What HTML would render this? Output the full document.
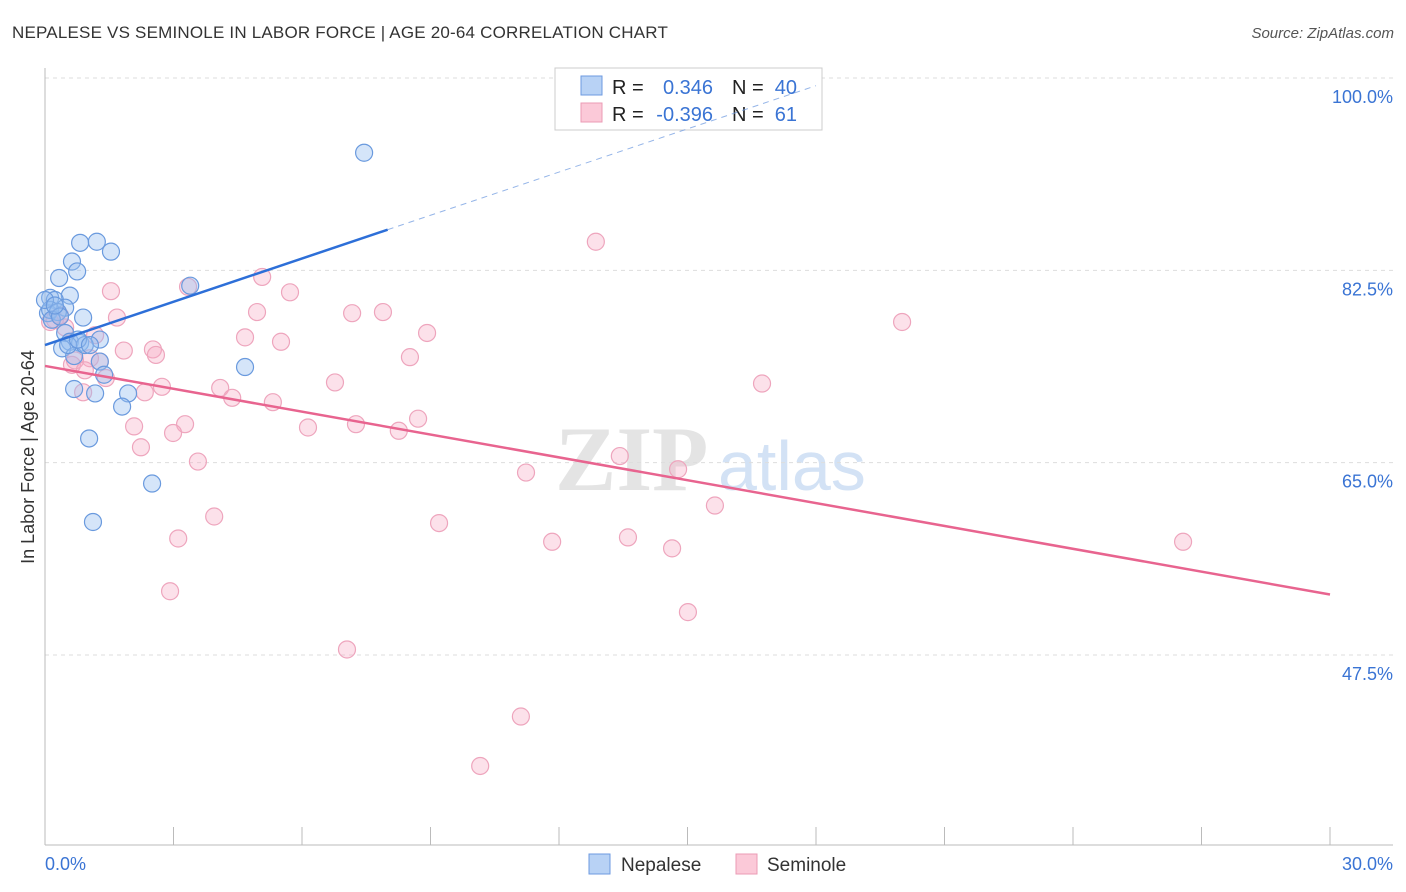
<!DOCTYPE html>
<html><head><meta charset="utf-8"><style>
body{margin:0;background:#fff;font-family:"Liberation Sans",sans-serif;}
#c{position:relative;width:1406px;height:892px;overflow:hidden;}
.t{position:absolute;white-space:nowrap;}
</style></head><body>
<div id="c">
<div class="t" style="left:12px;top:23px;font-size:17px;color:#333;letter-spacing:0.2px">NEPALESE VS SEMINOLE IN LABOR FORCE | AGE 20-64 CORRELATION CHART</div>
<div class="t" style="right:12px;top:25px;font-size:15px;color:#555;font-style:italic">Source: ZipAtlas.com</div>
<svg id="s" width="1406" height="892" style="position:absolute;left:0;top:0"></svg>
</div>
<script>
const xBlue=[7.45,0.82,1.21,1.54,0.63,0.75,0.33,3.39,0.58,0.12,0.23,0.47,0.07,0.89,0.47,1.28,0.58,0.82,0.40,0.68,1.28,4.67,1.38,0.68,1.94,1.17,1.80,1.03,2.50,1.12,0.12,0.30,0.0,0.16,0.54,0.93,0.35,0.77,0.23,1.05];
const yBlue=[93.2,85.0,85.1,84.2,83.3,82.4,81.8,81.1,80.2,80.0,79.8,79.1,78.6,78.2,76.8,76.2,76.0,75.9,75.4,74.7,74.2,73.7,73.0,71.7,71.3,71.3,70.1,67.2,63.1,59.6,78.9,78.7,79.8,78.0,75.7,75.7,78.3,76.2,79.3,75.7];
const xPink=[12.86,5.07,1.54,5.72,3.34,4.95,7.17,7.89,1.68,20.01,4.67,8.92,5.51,1.84,2.52,2.59,8.52,1.05,0.63,1.28,6.77,16.74,1.42,2.73,4.09,2.33,4.37,5.32,0.89,8.71,3.27,2.08,7.26,6.14,8.26,2.99,2.24,13.42,14.78,11.23,3.57,15.64,3.95,9.20,3.11,11.84,13.61,26.57,14.64,2.92,15.01,7.05,11.11,10.16,0.23,0.35,0.12,0.47,0.70,1.17,0.93];
const yPink=[85.1,81.9,80.6,80.5,81.0,78.7,78.6,78.7,78.2,77.8,76.4,76.8,76.0,75.2,75.3,74.8,74.6,74.5,73.9,74.2,72.3,72.2,72.7,71.9,71.8,71.4,70.9,70.5,71.4,69.0,68.5,68.3,68.5,68.2,67.9,67.7,66.4,65.6,64.4,64.1,65.1,61.1,60.1,59.5,58.1,57.8,58.2,57.8,57.2,53.3,51.4,48.0,41.9,37.4,78.0,78.4,77.8,77.3,74.3,76.6,73.4];
const yTicks=[100,82.5,65,47.5];
const yTickLabels=["100.0%","82.5%","65.0%","47.5%"];
const blueTrend=[[0,75.7],[8.0,86.2],[18.0,99.3]];
const pinkTrend=[[0,73.8],[30,53.0]];
const X=v=>45+v/30*1285, Y=v=>78+(100-v)*10.99;
const s=document.getElementById('s');const NS='http://www.w3.org/2000/svg';
function el(t,a,p){const e=document.createElementNS(NS,t);for(const k in a)e.setAttribute(k,a[k]);(p||s).appendChild(e);return e;}
let w=el('text',{x:555,y:490,'font-size':92,fill:'#e4e4e4','font-family':'Liberation Serif, serif','font-weight':'bold'});w.textContent='ZIP';

w=el('text',{x:718,y:490,'font-size':70,fill:'#d3e2f5','font-family':'Liberation Sans, sans-serif'});w.textContent='atlas';

yTicks.forEach((v,i)=>{
 const g=el('line',{x1:45,x2:1393,y1:Y(v),y2:Y(v),stroke:'#ddd','stroke-dasharray':'4,4'});
 
 const t=el('text',{x:1393,y:Y(v)+25,'text-anchor':'end','font-size':18,fill:'#3a74d4'});t.textContent=yTickLabels[i];
 
});
let a=el('line',{x1:45,x2:45,y1:68,y2:845,stroke:'#bbb'});
a=el('line',{x1:45,x2:1393,y1:845,y2:845,stroke:'#bbb'});
for(let i=0;i<=10;i++){const tk=el('line',{x1:X(i*3),x2:X(i*3),y1:827,y2:845,stroke:'#bbb'});}
let t=el('text',{x:45,y:870,'font-size':18,fill:'#3a74d4'});t.textContent='0.0%';
t=el('text',{x:1393,y:870,'text-anchor':'end','font-size':18,fill:'#3a74d4'});t.textContent='30.0%';
t=el('text',{x:34,y:457,'text-anchor':'middle','font-size':18,fill:'#333',transform:'rotate(-90 34 457)'});t.textContent='In Labor Force | Age 20-64';
xPink.forEach((x,i)=>{const c=el('circle',{cx:X(x),cy:Y(yPink[i]),r:8.5,fill:'rgba(245,170,195,0.35)',stroke:'#eea5bd','stroke-width':1.2});});
xBlue.forEach((x,i)=>{const c=el('circle',{cx:X(x),cy:Y(yBlue[i]),r:8.5,fill:'rgba(150,190,240,0.4)',stroke:'#6a9ade','stroke-width':1.2});});
let l=el('line',{x1:X(blueTrend[0][0]),y1:Y(blueTrend[0][1]),x2:X(blueTrend[1][0]),y2:Y(blueTrend[1][1]),stroke:'#2d6fd8','stroke-width':2.5});
l=el('line',{x1:X(pinkTrend[0][0]),y1:Y(pinkTrend[0][1]),x2:X(pinkTrend[1][0]),y2:Y(pinkTrend[1][1]),stroke:'#e8648f','stroke-width':2.5});
const lg=el('g',{});
el('rect',{x:555,y:68,width:267,height:62,fill:'#fff',stroke:'#ccc'},lg);
el('rect',{x:581,y:76,width:21,height:19,fill:'#b8d2f5',stroke:'#6d9ae0'},lg);
el('rect',{x:581,y:103,width:21,height:19,fill:'#fbc9d8',stroke:'#eb9bb5'},lg);
function tx(x,y,s,c,anchor){const e=el('text',{x:x,y:y,'font-size':20,fill:c,'text-anchor':anchor||'start'},lg);e.textContent=s;return e;}
tx(612,94,'R =','#222');tx(713,94,'0.346','#3a74d4','end');tx(732,94,'N =','#222');tx(797,94,'40','#3a74d4','end');
tx(612,121,'R =','#222');tx(713,121,'-0.396','#3a74d4','end');tx(732,121,'N =','#222');tx(797,121,'61','#3a74d4','end');
l=el('line',{x1:X(blueTrend[1][0]),y1:Y(blueTrend[1][1]),x2:X(blueTrend[2][0]),y2:Y(blueTrend[2][1]),stroke:'#7aa3e2','stroke-width':1,'stroke-dasharray':'6,5','stroke-opacity':0.8});
const bl=el('g',{});
el('rect',{x:589,y:854,width:21,height:20,fill:'#b8d2f5',stroke:'#6d9ae0'},bl);
el('rect',{x:736,y:854,width:21,height:20,fill:'#fbc9d8',stroke:'#eb9bb5'},bl);
let e=el('text',{x:621,y:871,'font-size':19,fill:'#333'},bl);e.textContent='Nepalese';
e=el('text',{x:767,y:871,'font-size':19,fill:'#333'},bl);e.textContent='Seminole';
</script>
</body></html>
